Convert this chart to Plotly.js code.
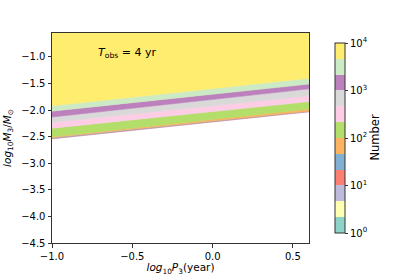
<!DOCTYPE html>
<html>
<head>
<meta charset="utf-8">
<script src="https://cdn.plot.ly/plotly-3.0.1.min.js"></script>
<style>html,body{margin:0;padding:0;background:#fff;}#chart{width:415px;height:277px;}</style>
</head>
<body>
<div id="chart"></div>
<script>
// Set3 colours, one per third of a decade from 10^0 to 10^4
const bandColors = ['#8dd3c7','#ffffb3','#bebada','#fb8072','#80b1d3','#fdb462',
                    '#b3de69','#fccde5','#d9d9d9','#bc80bd','#ccebc5','#ffed6f'];
// x ends of the boundaries (log10 P3)
const xEnds = [-1.0, 0.6];
// visible bands (index into bandColors), bottom to top
const bandIndex = [2, 3, 4, 5, 6, 7, 8, 9, 10, 11];
// lower boundary of each band at x=-1.0 and at x=0.6 (log10 M3/Msun)
const lowerLeft  = [-2.540, -2.532, -2.525, -2.517, -2.500, -2.340, -2.230, -2.130, -2.020, -1.920];
const lowerRight = [-2.040, -2.032, -2.025, -2.017, -1.980, -1.840, -1.730, -1.600, -1.510, -1.400];
const yTop = -0.55;
const cbTickVals = [0, 1, 2, 3, 4];
const cbTickText = ['10<sup>0</sup>','10<sup>1</sup>','10<sup>2</sup>','10<sup>3</sup>','10<sup>4</sup>'];
const xTicks = [-1.0, -0.5, 0.0, 0.5];
const yTicks = [-4.5, -4.0, -3.5, -3.0, -2.5, -2.0, -1.5, -1.0];

const traces = [];
for (let i = 0; i < bandIndex.length; i++) {
  const upL = i + 1 < bandIndex.length ? lowerLeft[i + 1] : yTop;
  const upR = i + 1 < bandIndex.length ? lowerRight[i + 1] : yTop;
  const c = bandColors[bandIndex[i]];
  traces.push({
    type: 'scatter', mode: 'lines',
    x: [xEnds[0], xEnds[1], xEnds[1], xEnds[0], xEnds[0]],
    y: [lowerLeft[i], lowerRight[i], upR, upL, lowerLeft[i]],
    fill: 'toself', fillcolor: c,
    line: {color: c, width: 0.6},
    hoverinfo: 'skip', showlegend: false
  });
}
// discrete colour scale
const cs = [];
for (let k = 0; k < bandColors.length; k++) {
  cs.push([k / bandColors.length, bandColors[k]]);
  cs.push([(k + 1) / bandColors.length, bandColors[k]]);
}
traces.push({
  type: 'scatter', mode: 'markers',
  x: [xEnds[0], xEnds[0]], y: [yTicks[0], yTicks[0]],
  marker: {
    color: [cbTickVals[0], cbTickVals[cbTickVals.length - 1]],
    cmin: 0, cmax: 4, colorscale: cs, opacity: 0, size: 1,
    showscale: true,
    colorbar: {
      x: 1.062, xanchor: 'left', xref: 'paper',
      y: 0.5, yanchor: 'middle', len: 1, lenmode: 'fraction',
      thickness: 10, outlinewidth: 1, outlinecolor: '#333',
      tickvals: cbTickVals, ticktext: cbTickText,
      ticks: 'outside', ticklen: 3, tickcolor: '#333',
      tickfont: {family: 'DejaVu Sans', size: 10, color: '#000'},
      title: {text: ''}
    }
  },
  hoverinfo: 'skip', showlegend: false
});

const layout = {
  width: 415, height: 277,
  margin: {l: 52, r: 106, t: 33, b: 34},
  paper_bgcolor: '#fff', plot_bgcolor: '#fff',
  font: {family: 'DejaVu Sans', size: 10, color: '#000'},
  xaxis: {
    range: [-1.0, 0.6], tickvals: xTicks, tickformat: '.1f',
    ticks: 'outside', ticklen: 3.5, tickcolor: '#333',
    showline: true, mirror: true, linecolor: '#333', linewidth: 1,
    showgrid: false, zeroline: false,
    title: {text: '<i>log</i><sub>10</sub><i>P</i><sub>3</sub>(year)', font: {size: 10.5}, standoff: 3}
  },
  yaxis: {
    range: [-4.5, yTop], tickvals: yTicks, tickformat: '.1f',
    ticks: 'outside', ticklen: 3.5, tickcolor: '#333',
    showline: true, mirror: true, linecolor: '#333', linewidth: 1,
    showgrid: false, zeroline: false,
    title: {text: '<i>log</i><sub>10</sub><i>M</i><sub>3</sub>/<i>M</i><sub>⊙</sub>', font: {size: 10.5}, standoff: 7}
  },
  annotations: [{
    x: -0.53, y: -0.925, xref: 'x', yref: 'y', showarrow: false,
    text: '<i>T</i><sub>obs</sub> = 4 yr', font: {size: 11, color: '#000'}
  }, {
    x: 1.255, y: 0.5, xref: 'paper', yref: 'paper', xanchor: 'center', yanchor: 'middle',
    showarrow: false, textangle: -90, text: 'Number', font: {size: 11.5, color: '#000'}
  }]
};
Plotly.newPlot('chart', traces, layout, {displayModeBar: false, staticPlot: true});
</script>
</body>
</html>
